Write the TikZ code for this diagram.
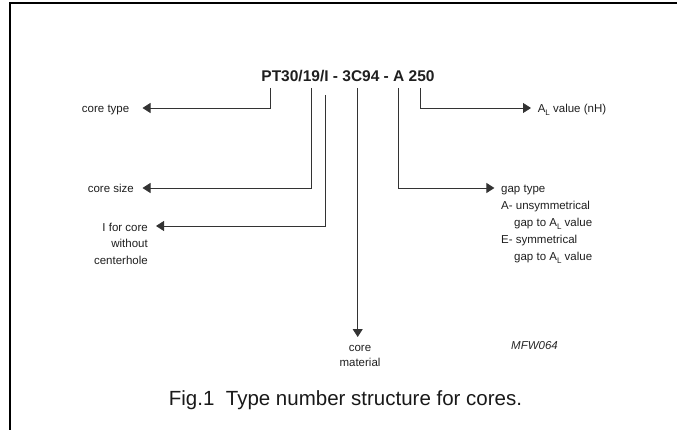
\documentclass[tikz,border=0pt]{standalone}
\usepackage{fontspec}
\setmainfont{Liberation Sans}
\usetikzlibrary{arrows.meta}
\newcommand\ALsub{A\raisebox{-0.45ex}{\fontsize{8}{8}\selectfont L}}
\tikzset{
  lbl/.style={inner sep=0pt, font=\fontsize{11.5}{16.8}\selectfont, text=black!88},
  conn/.style={line width=0.9pt, draw=black!80, -{Triangle[length=8pt,width=10pt]}},
}
\begin{document}
\begin{tikzpicture}[x=1pt,y=-1pt]
\useasboundingbox (0,0) rectangle (677,430);
% frame
\draw[line width=2pt] (10,430) -- (10,3) -- (677,3);
% title
\node[inner sep=0pt, anchor=base, font=\bfseries\fontsize{15.5}{18}\selectfont, text=black!88] (title) at (348,81.5) {PT30/19/I - 3C94 - A 250};
% top points of the leaders
\coordinate (p1) at (270,88);
\coordinate (p2) at (311,88);
\coordinate (p3) at (325.7,95);
\coordinate (p4) at (357.7,88);
\coordinate (p5) at (398.3,88);
\coordinate (p6) at (420,88);
% arrow tips
\coordinate (t1) at (142.5,108);
\coordinate (t2) at (142.5,188);
\coordinate (t3) at (156,226);
\coordinate (t4) at (357.7,337);
\coordinate (t5) at (494.4,188);
\coordinate (t6) at (531,108);
% labels (base anchor = baseline of the last line)
\node[lbl, anchor=base east] (ctype) at (129.5,113) {core type};
\node[lbl, anchor=base east] (csize) at (134,193) {core size};
\node[lbl, anchor=base east, align=right, font=\fontsize{11.5}{16.7}\selectfont] (cfor) at (148,264.4) {I for core\\without\\centerhole};
\node[lbl, anchor=base, align=center, font=\fontsize{11.5}{15.2}\selectfont] (cmat) at (360,366.5) {core\\material};
\node[lbl, anchor=base west, align=left, font=\fontsize{11.5}{17}\selectfont] (gap) at (501,261) {gap type\\A- unsymmetrical\\\hspace*{13pt}gap to \ALsub\ value\\E- symmetrical\\\hspace*{13pt}gap to \ALsub\ value};
\node[lbl, anchor=base west] (alv) at (537.6,113) {\ALsub\ value (nH)};
\node[inner sep=0pt, anchor=base west, font=\itshape\fontsize{11.5}{14}\selectfont, text=black!85] (code) at (511,349.5) {MFW064};
\node[inner sep=0pt, anchor=base, font=\fontsize{20.5}{24}\selectfont, text=black!90] (cap) at (345.5,405.5) {Fig.1\ \ Type number structure for cores.};
% connectors
\draw[conn] (p1) |- (t1);
\draw[conn] (p2) |- (t2);
\draw[conn] (p3) |- (t3);
\draw[conn] (p4) -- (t4);
\draw[conn] (p5) |- (t5);
\draw[conn] (p6) |- (t6);
\end{tikzpicture}
\end{document}
